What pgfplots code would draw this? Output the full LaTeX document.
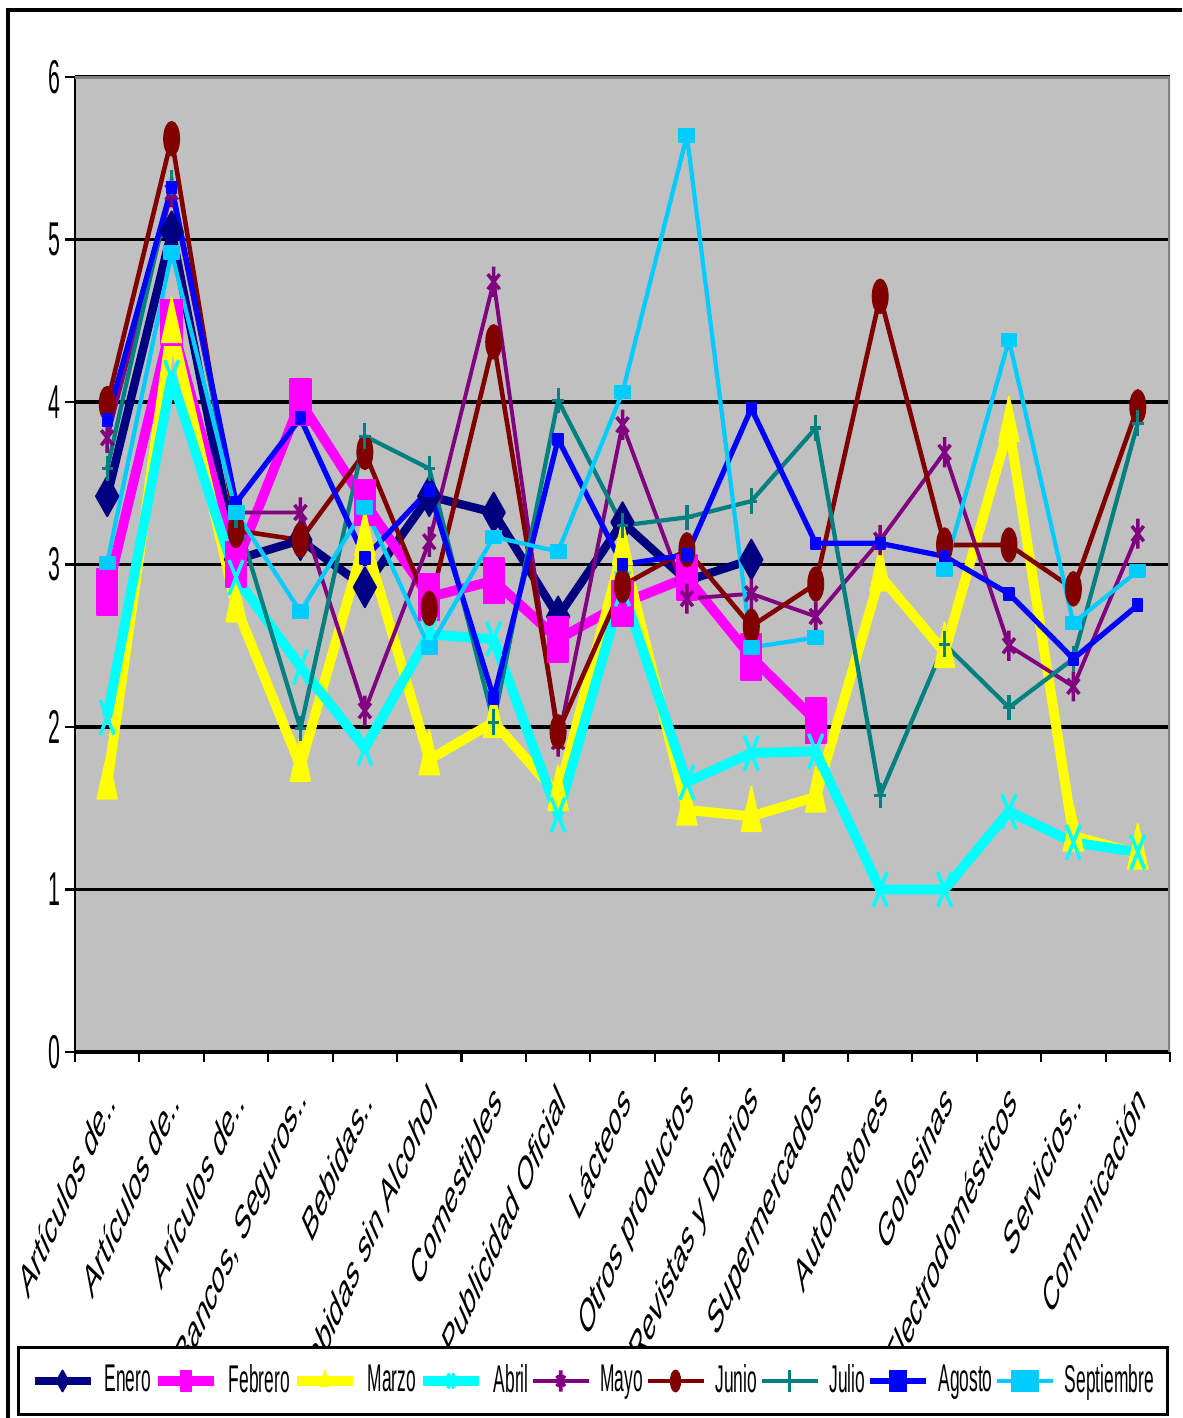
\documentclass[border=0pt]{standalone}
\usepackage{fontspec}
\setmainfont{Liberation Sans}[FakeStretch=0.45]
\newfontfamily\lblfont{Liberation Sans}
\usepackage{pgfplots}
\pgfplotsset{compat=1.18}
\usepackage{pgfplotstable}

\definecolor{plotgray}{HTML}{C0C0C0}
\definecolor{cEnero}{HTML}{000080}
\definecolor{cFeb}{HTML}{FF00FF}
\definecolor{cMar}{HTML}{FFFF00}
\definecolor{cAbr}{HTML}{00FFFF}
\definecolor{cMay}{HTML}{800080}
\definecolor{cJun}{HTML}{800000}
\definecolor{cJul}{HTML}{008080}
\definecolor{cAgo}{HTML}{0000FF}
\definecolor{cSep}{HTML}{00CCFF}

% one row per rubro, one column per month
\pgfplotstableread{
x  Ene  Feb  Mar  Abr  May  Jun  Jul  Ago  Sep
0  3.42 2.83 1.65 2.06 3.78 3.99 3.59 3.89 3.01
1  5.05 4.49 4.46 4.15 5.29 5.62 5.35 5.32 4.92
2  3.03 3.00 2.74 2.92 3.32 3.21 3.30 3.38 3.32
3  3.15 4.00 1.76 2.37 3.32 3.15 1.99 3.90 2.71
4  2.86 3.38 3.15 1.87 2.10 3.69 3.79 3.04 3.35
5  3.42 2.80 1.80 2.57 3.14 2.73 3.59 3.46 2.49
6  3.32 2.90 2.03 2.54 4.74 4.37 2.03 2.18 3.17
7  2.68 2.54 1.58 1.46 1.91 1.97 4.01 3.77 3.08
8  3.26 2.76 3.09 2.85 3.86 2.87 3.24 3.00 4.06
9  2.90 2.92 1.49 1.66 2.79 3.09 3.29 3.06 5.64
10 3.03 2.43 1.45 1.84 2.82 2.62 3.39 3.96 2.49
11 nan  2.04 1.57 1.85 2.68 2.88 3.84 3.13 2.55
12 nan  nan  2.93 1.00 3.15 4.65 1.58 3.13 nan
13 nan  nan  2.46 1.00 3.69 3.12 2.51 3.05 2.97
14 nan  nan  3.85 1.48 2.50 3.12 2.12 2.82 4.38
15 nan  nan  1.33 1.29 2.25 2.85 2.42 2.42 2.64
16 nan  nan  1.22 1.23 3.19 3.97 3.87 2.75 2.96
}\rubros

\begin{document}
\begin{tikzpicture}
\path[use as bounding box] (0,0) rectangle (11.82cm,14.18cm);
\draw[line width=0.9pt] (0.08cm,0) -- (0.08cm,14.08cm) -- (11.82cm,14.08cm);
\begin{axis}[
  at={(0.75cm,3.66cm)}, anchor=south west,
  scale only axis, width=10.95cm, height=9.75cm,
  xmin=-0.5, xmax=16.5, ymin=0, ymax=6,
  axis background/.style={fill=plotgray},
  axis x line*=bottom, axis y line*=left,
  axis line style={line width=0.8pt, -},
  ytick={0,1,...,6},
  /pgf/number format/assume math mode=true,
  yticklabel style={font=\fontsize{13.5}{15}\selectfont, inner sep=1pt},
  ymajorgrids, major grid style={black, line width=0.9pt},
  xtick={-0.5,0.5,...,16.5},
  x tick label as interval,
  xticklabels={Artículos de..,Artículos de..,Arículos de..,{Bancos, Seguros..},Bebidas..,Bebidas sin Alcohol,Comestibles,Publicidad Oficial,Lácteos,Otros productos,Revistas y Diarios,Supermercados,Automotores,Golosinas,Electrodomésticos,Servicios..,Comunicación},
  xticklabel style={font=\lblfont\fontsize{13.5}{15}\selectfont, yshift=-0.3cm, xshift=0.04cm, xscale=0.45, rotate=45, anchor=east, inner sep=0pt},
  tick align=outside,
  major tick length=0.1cm,
  tick style={black, line width=0.6pt},
  unbounded coords=jump,
  every axis plot/.append style={line join=round},
  legend columns=9,
  legend style={at={(0.473,-0.3374)}, anchor=center, draw=black, line width=0.9pt, fill=white,
    font=\fontsize{11}{12}\selectfont, inner xsep=0.12cm, inner ysep=0.1cm,
    nodes={inner xsep=0.5pt, inner ysep=2pt},
    /tikz/every even column/.append style={column sep=0.005cm},
    /tikz/every odd column/.append style={column sep=0.08cm}},
  legend image code/.code={\draw[mark repeat=2, mark phase=2, mark size=3pt] plot coordinates {(0cm,0cm) (0.28cm,0cm) (0.56cm,0cm)};},
]
\addplot[cEnero, line width=2.4pt, mark=diamond*, mark size=5.7pt, mark options={solid, xscale=0.75, line width=0.5pt}] table[x=x, y=Ene] {\rubros};
\addlegendentry{Enero}
\addplot[cFeb, line width=2.8pt, mark=square*, mark size=6.5pt, mark options={solid, xscale=0.45, line width=0.5pt}] table[x=x, y=Feb] {\rubros};
\addlegendentry{Febrero}
\addplot[cMar, line width=2.8pt, mark=triangle*, mark size=8.5pt, mark options={solid, xscale=0.38, line width=0.5pt}] table[x=x, y=Mar] {\rubros};
\addlegendentry{Marzo}
\addplot[cAbr, line width=2.8pt, mark=x, mark size=7pt, mark options={solid, xscale=0.4, line width=1pt}] table[x=x, y=Abr] {\rubros};
\addlegendentry{Abril}
\addplot[cMay, line width=1.1pt, mark=asterisk, mark size=4.3pt, mark options={solid, xscale=0.45, line width=1pt}] table[x=x, y=May] {\rubros};
\addlegendentry{Mayo}
\addplot[cJun, line width=1.3pt, mark=*, mark size=4.8pt, mark options={solid, xscale=0.45, line width=0.5pt}] table[x=x, y=Jun] {\rubros};
\addlegendentry{Junio}
\addplot[cJul, line width=1.2pt, mark=+, mark size=3.6pt, mark options={solid, xscale=0.45, line width=0.9pt}] table[x=x, y=Jul] {\rubros};
\addlegendentry{Julio}
\addplot[cAgo, line width=1.5pt, mark=square*, mark size=1.7pt, mark options={solid, xscale=0.8, line width=0.5pt}] table[x=x, y=Ago] {\rubros};
\addlegendentry{Agosto}
\addplot[cSep, line width=1.2pt, mark=square*, mark size=1.8pt, mark options={solid, xscale=1.2, line width=0.5pt}] table[x=x, y=Sep] {\rubros};
\addlegendentry{Septiembre}
\draw[gray, line width=1.2pt] (rel axis cs:0,1) -- (rel axis cs:1,1) -- (rel axis cs:1,0);
\end{axis}
\end{tikzpicture}
\end{document}
